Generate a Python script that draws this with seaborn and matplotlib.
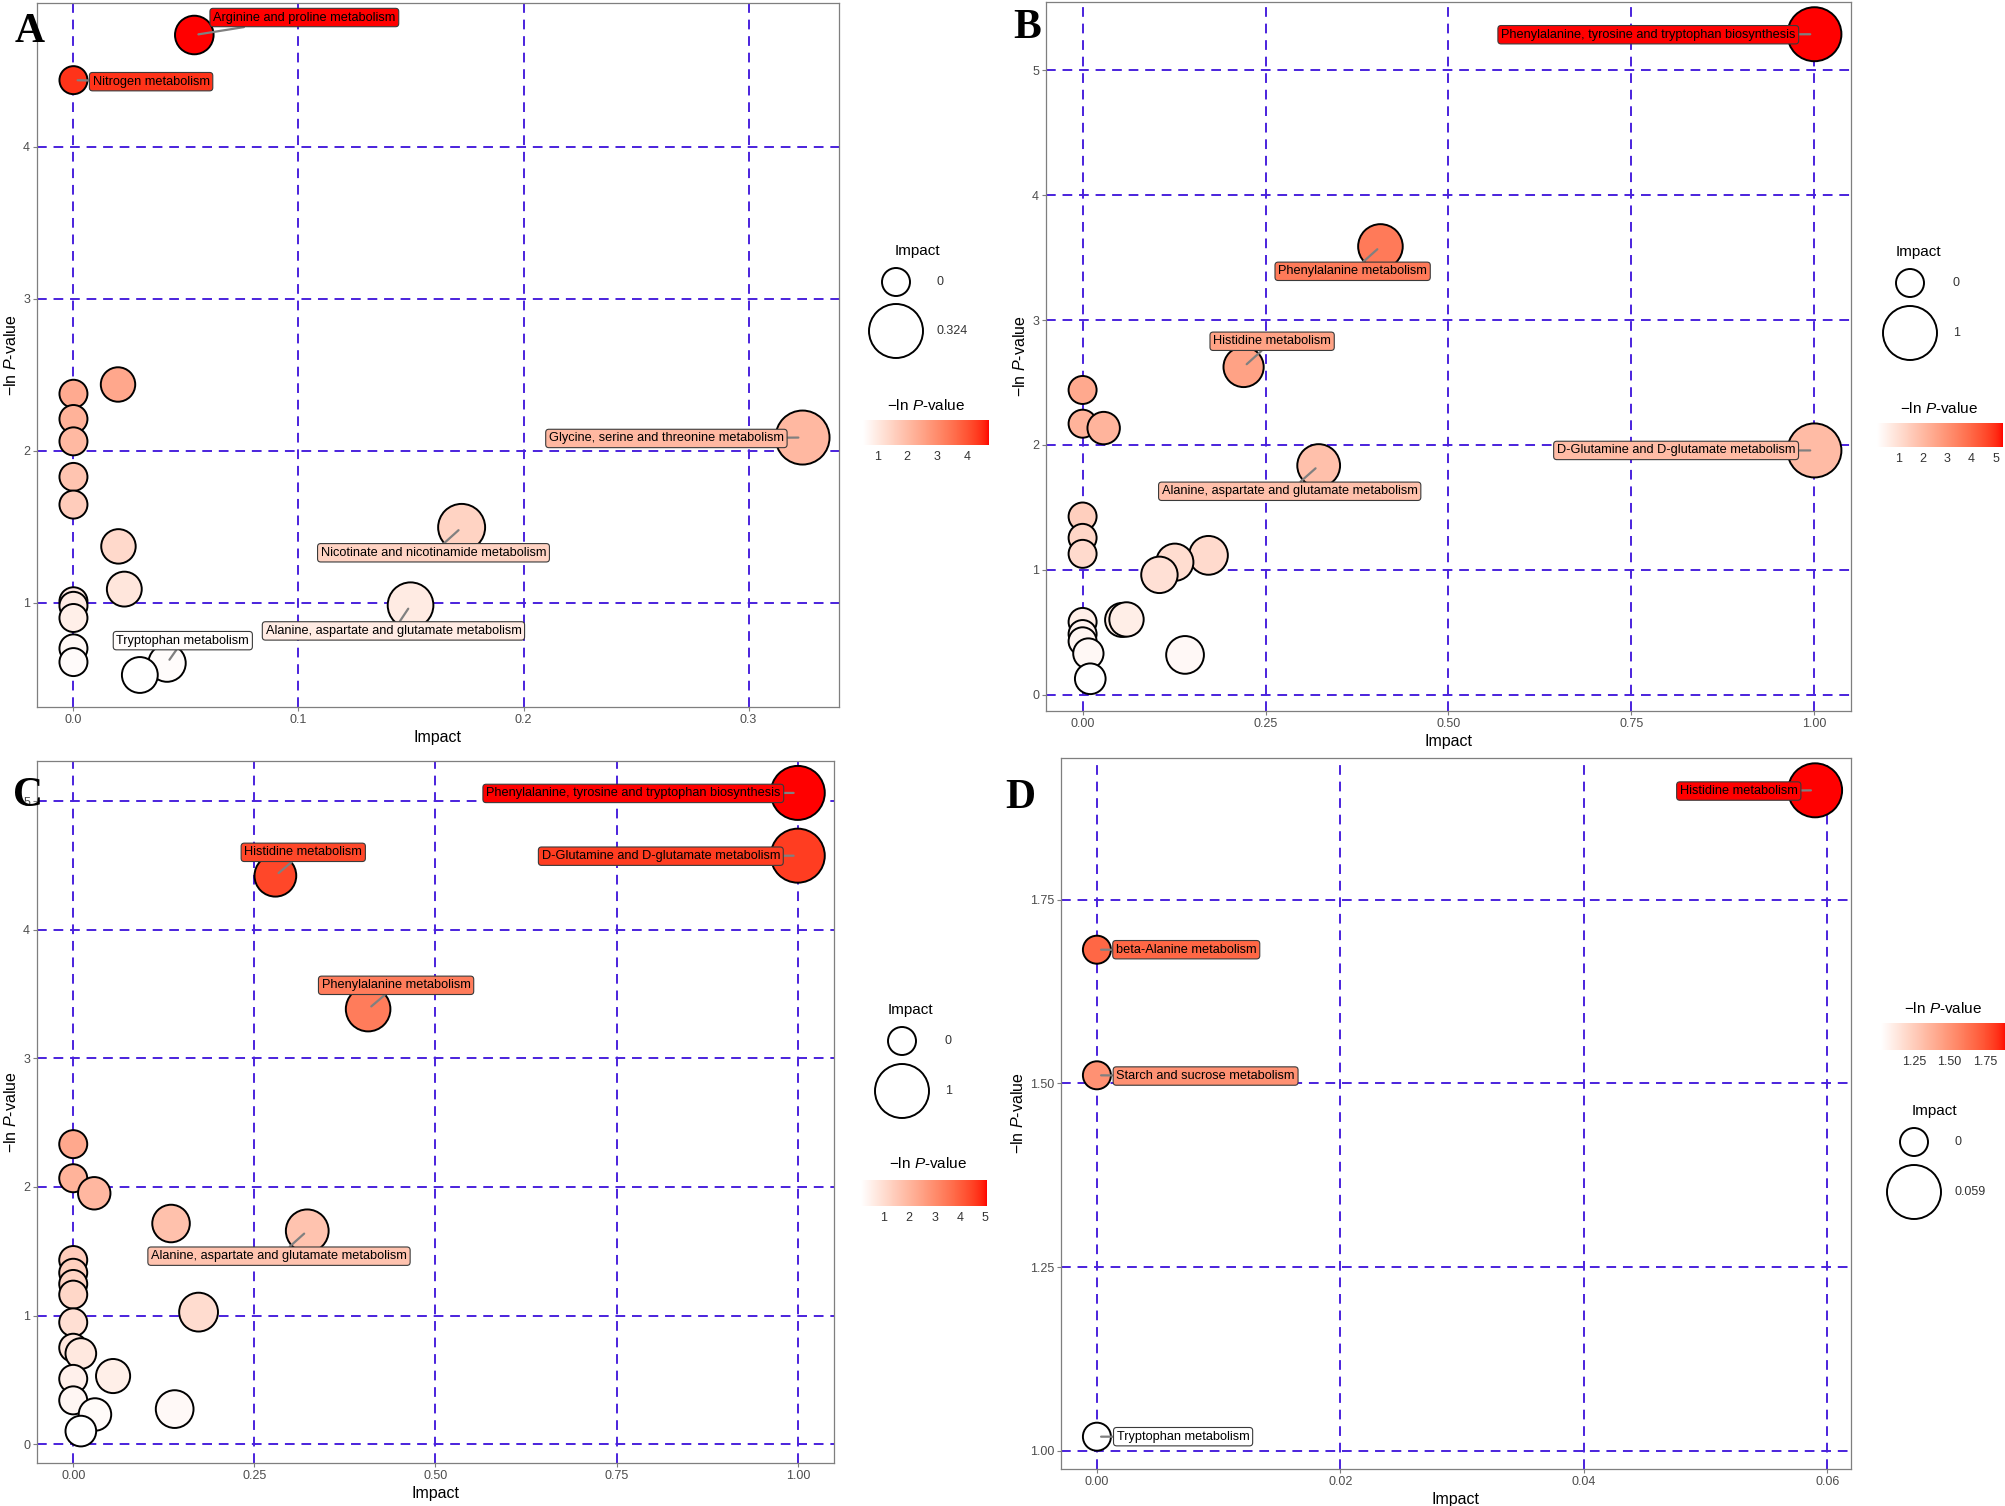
import numpy as np
import pandas as pd
import matplotlib
matplotlib.use("Agg")
import matplotlib.pyplot as plt
import seaborn as sns
from matplotlib.colors import LinearSegmentedColormap, Normalize
from matplotlib.cm import ScalarMappable

# ---------------- data ----------------
a_impact = [0.0537, 0.0, 0.0, 0.0198, 0.0, 0.0, 0.324, 0.0, 0.0, 0.1725, 0.020, 0.0226,
            0.0, 0.0, 0.1498, 0.0, 0.0, 0.0416, 0.0, 0.0295]
a_lnp = [4.735, 4.438, 2.375, 2.436, 2.209, 2.062, 2.087, 1.828, 1.646, 1.496, 1.371, 1.090,
         1.010, 0.980, 0.984, 0.900, 0.700, 0.603, 0.610, 0.525]
a_names = ["Arginine and proline metabolism", "Nitrogen metabolism", "", "", "", "",
           "Glycine, serine and threonine metabolism", "", "",
           "Nicotinate and nicotinamide metabolism", "", "", "", "",
           "Alanine, aspartate and glutamate metabolism", "", "",
           "Tryptophan metabolism", "", ""]

b_impact = [1.0, 0.407, 0.220, 0.0, 0.0, 0.0288, 1.0, 0.3226, 0.0, 0.0, 0.0, 0.172, 0.126,
            0.105, 0.054, 0.060, 0.0, 0.0, 0.0, 0.0079, 0.0105, 0.140]
b_lnp = [5.288, 3.589, 2.624, 2.440, 2.170, 2.135, 1.956, 1.835, 1.427, 1.256, 1.128, 1.116,
         1.061, 0.960, 0.599, 0.603, 0.583, 0.486, 0.428, 0.330, 0.128, 0.319]
b_names = ["Phenylalanine, tyrosine and tryptophan biosynthesis", "Phenylalanine metabolism",
           "Histidine metabolism", "", "", "", "D-Glutamine and D-glutamate metabolism",
           "Alanine, aspartate and glutamate metabolism", "", "", "", "", "", "", "", "",
           "", "", "", "", "", ""]

c_impact = [1.0, 1.0, 0.279, 0.407, 0.0, 0.0, 0.029, 0.135, 0.323, 0.0, 0.0, 0.0, 0.0,
            0.173, 0.0, 0.0, 0.0105, 0.055, 0.0, 0.0, 0.140, 0.030, 0.0105]
c_lnp = [5.064, 4.576, 4.420, 3.383, 2.333, 2.068, 1.951, 1.716, 1.659, 1.432, 1.333, 1.246,
         1.163, 1.027, 0.947, 0.750, 0.705, 0.530, 0.508, 0.341, 0.273, 0.231, 0.102]
c_names = ["Phenylalanine, tyrosine and tryptophan biosynthesis",
           "D-Glutamine and D-glutamate metabolism", "Histidine metabolism",
           "Phenylalanine metabolism", "", "", "", "",
           "Alanine, aspartate and glutamate metabolism", "", "", "", "", "", "", "", "",
           "", "", "", "", "", ""]

d_impact = [0.059, 0.0, 0.0, 0.0]
d_lnp = [1.899, 1.682, 1.511, 1.019]
d_names = ["Histidine metabolism", "beta-Alanine metabolism",
           "Starch and sucrose metabolism", "Tryptophan metabolism"]

cbar_ticks_a = [1, 2, 3, 4]
cbar_ticks_b = [1, 2, 3, 4, 5]
cbar_ticks_c = [1, 2, 3, 4, 5]
cbar_ticks_d = [1.25, 1.50, 1.75]
size_labels_a = ["0", "0.324"]
size_labels_b = ["0", "1"]
size_labels_c = ["0", "1"]
size_labels_d = ["0", "0.059"]

# ---------------- layout (pixel positions in the 2006x1506 figure) ----------------
W, H = 2006, 1506
panels = [
    dict(letter="A", imp=a_impact, lnp=a_lnp, names=a_names, cticks=cbar_ticks_a, slabels=size_labels_a,
         xticks=[0.0, 0.1, 0.2, 0.3], xfmt="{:.1f}", yticks=[1, 2, 3, 4], yfmt="{:g}",
         box=(37, 3, 839, 707), letter_pos=(30, 32),
         size_leg=dict(title=(917, 251), c0=(896, 282), c1=(896, 331), lx=937),
         col_leg=dict(title=(926, 405), bar=(863, 420, 989, 445)),
         lab_pos={"Arginine and proline metabolism": (0.1026, 4.850),
                  "Nitrogen metabolism": (0.0345, 4.428),
                  "Glycine, serine and threonine metabolism": (0.2635, 2.081),
                  "Nicotinate and nicotinamide metabolism": (0.160, 1.329),
                  "Alanine, aspartate and glutamate metabolism": (0.1422, 0.815),
                  "Tryptophan metabolism": (0.0486, 0.751)}),
    dict(letter="B", imp=b_impact, lnp=b_lnp, names=b_names, cticks=cbar_ticks_b, slabels=size_labels_b,
         xticks=[0, 0.25, 0.5, 0.75, 1.0], xfmt="{:.2f}", yticks=[0, 1, 2, 3, 4, 5], yfmt="{:g}",
         box=(1046, 2, 1851, 711), letter_pos=(1027, 28),
         size_leg=dict(title=(1918, 252), c0=(1910, 283), c1=(1910, 333), lx=1953),
         col_leg=dict(title=(1939, 408), bar=(1877, 423, 2003, 447)),
         lab_pos={"Phenylalanine, tyrosine and tryptophan biosynthesis": (0.773, 5.284),
                  "Phenylalanine metabolism": (0.369, 3.39),
                  "Histidine metabolism": (0.259, 2.83),
                  "D-Glutamine and D-glutamate metabolism": (0.811, 1.956),
                  "Alanine, aspartate and glutamate metabolism": (0.283, 1.629)}),
    dict(letter="C", imp=c_impact, lnp=c_lnp, names=c_names, cticks=cbar_ticks_c, slabels=size_labels_c,
         xticks=[0, 0.25, 0.5, 0.75, 1.0], xfmt="{:.2f}", yticks=[0, 1, 2, 3, 4, 5], yfmt="{:g}",
         box=(37, 761, 834, 1463), letter_pos=(28, 796),
         size_leg=dict(title=(910, 1010), c0=(902, 1041), c1=(902, 1091), lx=945),
         col_leg=dict(title=(928, 1164), bar=(861, 1180, 987, 1206)),
         lab_pos={"Phenylalanine, tyrosine and tryptophan biosynthesis": (0.773, 5.06),
                  "D-Glutamine and D-glutamate metabolism": (0.811, 4.572),
                  "Histidine metabolism": (0.3175, 4.602),
                  "Phenylalanine metabolism": (0.4456, 3.568),
                  "Alanine, aspartate and glutamate metabolism": (0.284, 1.462)}),
    dict(letter="D", imp=d_impact, lnp=d_lnp, names=d_names, cticks=cbar_ticks_d, slabels=size_labels_d,
         xticks=[0, 0.02, 0.04, 0.06], xfmt="{:.2f}", yticks=[1.0, 1.25, 1.5, 1.75], yfmt="{:.2f}",
         box=(1061, 758, 1851, 1469), letter_pos=(1020, 798),
         size_leg=dict(title=(1934, 1111), c0=(1914, 1142), c1=(1914, 1192), lx=1955),
         col_leg=dict(title=(1943, 1008), bar=(1881, 1023, 2006, 1050)),
         lab_pos={"Histidine metabolism": (0.05273, 1.898),
                  "beta-Alanine metabolism": (0.00734, 1.682),
                  "Starch and sucrose metabolism": (0.00893, 1.510),
                  "Tryptophan metabolism": (0.00708, 1.019)}),
]

# ---------------- style ----------------
sns.set_style("white")
plt.rcParams["font.family"] = ["Liberation Sans", "DejaVu Sans"]
plt.rcParams["mathtext.fontset"] = "custom"
plt.rcParams["mathtext.rm"] = "Liberation Sans"
plt.rcParams["mathtext.it"] = "Liberation Sans:italic"
plt.rcParams["mathtext.default"] = "regular"

GRID = "#4A22DD"
SPINE = "#7F7F7F"
TICKLAB = "#4D4D4D"
D0, D1 = 28.0, 54.0  # circle diameters (px) for impact 0 and impact max


def lab_to_rgb(L, a, b):
    fy = (L + 16) / 116
    fx = fy + a / 500
    fz = fy - b / 200

    def finv(t):
        return t ** 3 if t > 6 / 29 else 3 * (6 / 29) ** 2 * (t - 4 / 29)
    X, Y, Z = 0.95047 * finv(fx), finv(fy), 1.08883 * finv(fz)
    r = 3.2406 * X - 1.5372 * Y - 0.4986 * Z
    g = -0.9689 * X + 1.8758 * Y + 0.0415 * Z
    bb = 0.0557 * X - 0.2040 * Y + 1.0570 * Z

    def gam(c):
        c = min(max(c, 0), 1)
        return 12.92 * c if c <= 0.0031308 else 1.055 * c ** (1 / 2.4) - 0.055
    return (gam(r), gam(g), gam(bb))


white_lab = np.array([100.0, 0.0, 0.0])
red_lab = np.array([53.24, 80.09, 67.20])
cmap = LinearSegmentedColormap.from_list(
    "white_red", [lab_to_rgb(*(white_lab + t * (red_lab - white_lab))) for t in np.linspace(0, 1, 64)])


def frac(l, t, r, b):
    return [l / W, 1 - b / H, (r - l) / W, (b - t) / H]


def s_of(v, vmax):
    d = D0 + (D1 - D0) * np.sqrt(v / vmax)
    return (d * 0.72) ** 2


YLAB = r"$-$ln $\mathit{P}$-value"

fig = plt.figure(figsize=(W / 100, H / 100), dpi=100)

legend_items = []
for p in panels:
    df = pd.DataFrame({"Impact": p["imp"], "lnp": p["lnp"], "name": p["names"]})
    vmax = df["Impact"].max()
    lo, hi = df["lnp"].min(), df["lnp"].max()
    norm = Normalize(lo, hi)
    sizes = {v: s_of(v, vmax) for v in df["Impact"].unique()}

    ax = fig.add_axes(frac(*p["box"]))
    ax.set_axisbelow(True)
    sns.scatterplot(data=df, x="Impact", y="lnp", hue="lnp", palette=cmap, hue_norm=norm,
                    size="Impact", sizes=sizes, edgecolor="black", linewidth=1.4,
                    alpha=1, legend=False, ax=ax, zorder=2)

    xr = df["Impact"].max() - df["Impact"].min()
    yr = hi - lo
    ax.set_xlim(df["Impact"].min() - 0.05 * xr, df["Impact"].max() + 0.05 * xr)
    ax.set_ylim(lo - 0.05 * yr, hi + 0.05 * yr)
    ax.set_xticks(p["xticks"])
    ax.set_xticklabels([p["xfmt"].format(t) for t in p["xticks"]])
    ax.set_yticks(p["yticks"])
    ax.set_yticklabels([p["yfmt"].format(t) for t in p["yticks"]])
    ax.grid(True, color=GRID, linestyle=(0, (5, 3.5)), linewidth=1.4)
    for sp in ax.spines.values():
        sp.set_color(SPINE)
        sp.set_linewidth(0.9)
        sp.set_visible(True)
    ax.tick_params(axis="both", which="both", direction="out", length=3, width=0.8,
                   color=SPINE, labelsize=9, labelcolor=TICKLAB, pad=2,
                   bottom=True, left=True)
    ax.set_xlabel("Impact", fontsize=11.5, color="black", labelpad=3)
    ax.set_ylabel(YLAB, fontsize=11.5, color="black", labelpad=3)

    for _, row in df.iterrows():
        if row["name"]:
            lx, ly = p["lab_pos"][row["name"]]
            fc = cmap(norm(row["lnp"]))
            ax.annotate(row["name"], xy=(row["Impact"], row["lnp"]), xytext=(lx, ly),
                        textcoords="data", ha="center", va="center", fontsize=9.2,
                        color="black", zorder=5, annotation_clip=False,
                        bbox=dict(boxstyle="round,pad=0.25,rounding_size=0.25", fc=fc,
                                  ec="#3a3a3a", lw=0.8),
                        arrowprops=dict(arrowstyle="-", color="#808080", lw=1.6,
                                        shrinkA=0, shrinkB=3))

    # colour legend
    cl = p["col_leg"]
    cax = fig.add_axes(frac(*cl["bar"]))
    cb = fig.colorbar(ScalarMappable(norm=norm, cmap=cmap), cax=cax, orientation="horizontal")
    cb.set_ticks(p["cticks"])
    cb.set_ticklabels([("{:.2f}".format(t) if p["letter"] == "D" else "{:g}".format(t))
                       for t in p["cticks"]])
    cb.outline.set_visible(False)
    cax.xaxis.set_ticks_position("both")
    cax.tick_params(axis="x", which="both", direction="in", length=5, width=0.8,
                    color="white", labelsize=9, labelcolor="#333333", pad=4,
                    labeltop=False, labelbottom=True)
    legend_items.append((p, vmax))

# overlay axes for letters and size legends
ov = fig.add_axes([0, 0, 1, 1], zorder=10)
ov.set_xlim(0, W)
ov.set_ylim(H, 0)
ov.axis("off")
ov.patch.set_alpha(0)
for p, vmax in legend_items:
    sl = p["size_leg"]
    ov.text(*sl["title"], "Impact", ha="center", va="center", fontsize=11, color="black")
    ov.scatter([sl["c0"][0], sl["c1"][0]], [sl["c0"][1], sl["c1"][1]],
               s=[s_of(0.0, vmax), s_of(vmax, vmax)], facecolor="white",
               edgecolor="black", linewidth=1.4, clip_on=False)
    ov.text(sl["lx"], sl["c0"][1], p["slabels"][0], ha="left", va="center", fontsize=9, color="#333333")
    ov.text(sl["lx"], sl["c1"][1], p["slabels"][1], ha="left", va="center", fontsize=9, color="#333333")
    cl = p["col_leg"]
    ov.text(*cl["title"], YLAB, ha="center", va="center", fontsize=11, color="black")
    ov.text(*p["letter_pos"], p["letter"], ha="center", va="center", fontsize=30,
            fontweight="bold", family="Liberation Serif", color="black")

fig.savefig("out.png", dpi=100, facecolor="white")
